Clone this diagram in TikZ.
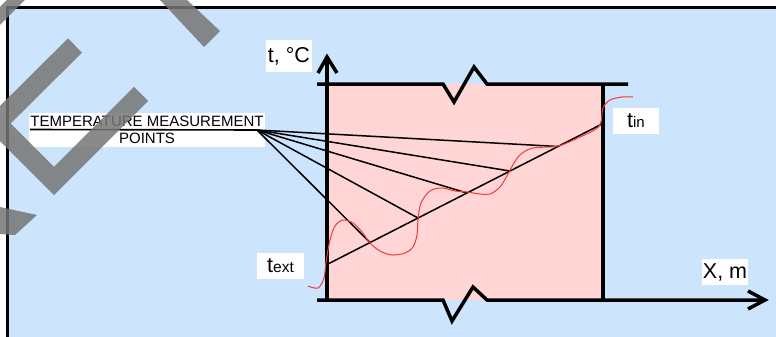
\documentclass[tikz,border=0pt]{standalone}
\usepackage{fontspec}
\setmainfont{Liberation Sans}
\definecolor{bgblue}{RGB}{204,228,252}
\definecolor{wallpink}{RGB}{255,213,213}
\definecolor{wavered}{RGB}{238,58,58}
\definecolor{wmgray}{RGB}{118,118,118}
\begin{document}
\begin{tikzpicture}[x=1pt,y=-1pt,
  axis/.style={line width=3.5pt, line join=miter},
  fan/.style={line width=1.5pt},
  lbl/.style={fill=white, inner sep=0pt, font=\fontsize{21.5}{24}\selectfont},
  wm/.style={fill=wmgray, fill opacity=0.85}]
\useasboundingbox (0,0) rectangle (776,337);
\fill[white] (0,0) rectangle (776,337);
\fill[bgblue] (7,7) rectangle (776,337);
\draw[line width=3.2pt] (7.5,337) -- (7.5,7.5) -- (776,7.5);
% wall
\fill[wallpink] (327,84) rectangle (603,300);
% measurement label
\node[fill=white, inner sep=0pt, minimum width=236pt, minimum height=34pt,
      align=center, font=\fontsize{15}{17}\selectfont] (tmp) at (147,130)
      {TEMPERATURE MEASUREMENT\\POINTS};
\coordinate (src) at (257,130);
\coordinate (ul) at (30,129.5);
\coordinate (ext) at (328,264);
\coordinate (in) at (602,124);
\coordinate (p1) at (370,242.5);
\coordinate (p2) at (418,218);
\coordinate (p3) at (467,193);
\coordinate (p4) at (510,171);
\coordinate (p5) at (558,146.5);
\foreach \p in {p1,p2,p3,p4,p5} \draw[fan] (src) -- (\p);
\draw[fan] (ext) -- (in);
\draw[line width=1.6pt] (ul) -- (src);
% axes and wall boundaries
\coordinate (ytip) at (327,57);
\coordinate (xtip) at (765,300);
\draw[axis] (327,300) -- (ytip);
\draw[axis] (318,73) -- (ytip) -- (337,73);
\draw[axis] (603,84) -- (603,300);
\draw[axis] (317,84) -- (443,84) -- (454,102) -- (474,67) -- (487,84) -- (628,84);
\draw[axis] (317,300) -- (443,300) -- (452,321) -- (473,287) -- (487,300) -- (xtip);
\draw[axis] (748,291) -- (xtip) -- (748,309);
% temperature wave
\draw[wavered, line width=1pt] plot[smooth, tension=0.55] coordinates {
 (308,286) (318,288) (324,278) (326,262) (330,240) (335,226) (343,220)
 (353,223) (362,232) (370,243) (380,251) (392,255) (405,253) (413,247)
 (417,235) (418,220) (421,203) (430,191) (442,188) (455,191) (467,192)
 (480,194) (490,194) (500,187) (508,174) (514,163) (521,154) (533,148)
 (558,146) (580,137) (596,129) (601,122) (603,108) (610,100) (622,97) (633,97)};
% labels
\node[lbl, minimum width=46pt, minimum height=32pt] (tC) at (289,56) {t, °C};
\node[lbl, minimum width=46pt, minimum height=26pt] (Xm) at (725,272) {X, m};
\node[lbl, minimum width=46pt, minimum height=26pt] (tinl) at (636,121)
   {t{\fontsize{15}{18}\selectfont in}};
\node[lbl, minimum width=47pt, minimum height=26pt] (textl) at (280.5,266)
   {t{\fontsize{15.5}{18}\selectfont ext}};
% watermark strokes
\fill[wm] (7,0) -- (25,0) -- (0,25) -- (0,7) -- cycle;
\fill[wm] (160,0) -- (187,0) -- (220,31) -- (204,47) -- cycle;
\draw[wmgray, draw opacity=0.85, line width=20pt, line join=miter]
  (75,45.5) -- (-3.5,123.5) -- (54,181) -- (141,94);
\fill[wm] (0,207) -- (37,215) -- (15,235) -- (0,234) -- cycle;
\end{tikzpicture}
\end{document}
